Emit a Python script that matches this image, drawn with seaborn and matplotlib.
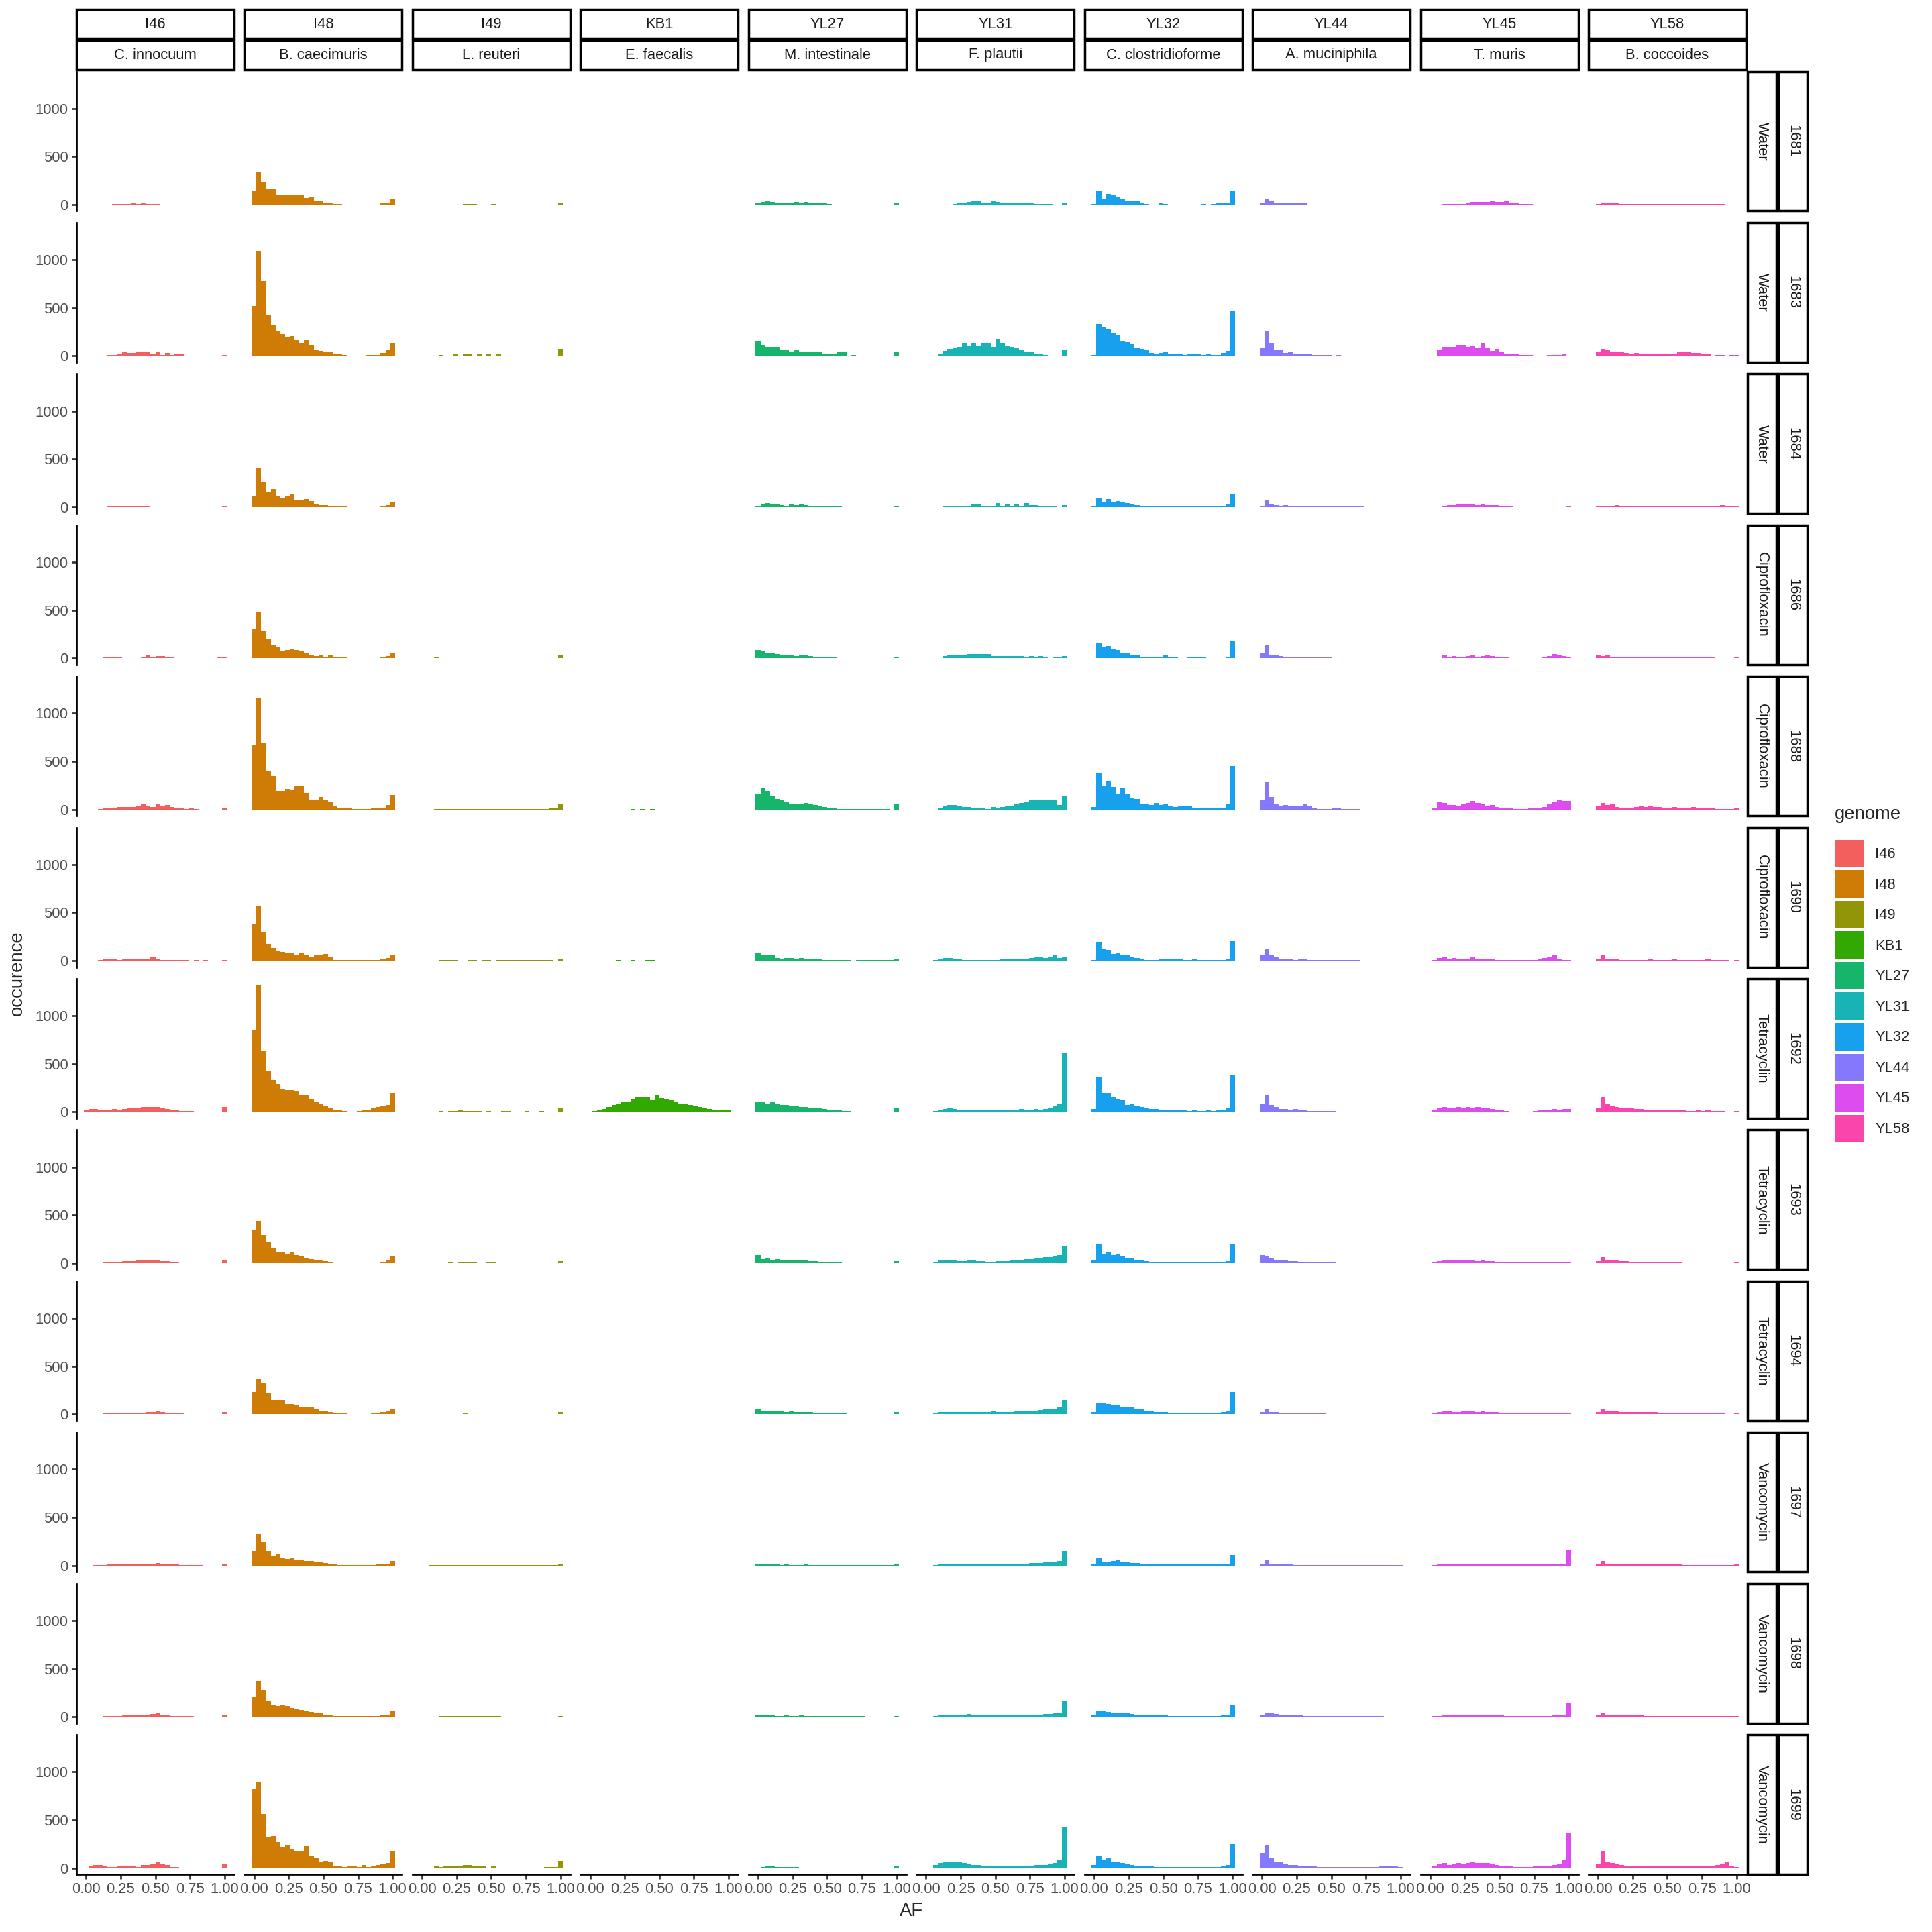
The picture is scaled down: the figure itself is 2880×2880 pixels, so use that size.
import numpy as np
import pandas as pd
import seaborn as sns
import matplotlib.pyplot as plt
from matplotlib.patches import Rectangle, Patch
from matplotlib.ticker import FormatStrFormatter

samples = ["1681", "1683", "1684", "1686", "1688", "1690",
           "1692", "1693", "1694", "1697", "1698", "1699"]
treatments = ["Water", "Water", "Water",
              "Ciprofloxacin", "Ciprofloxacin", "Ciprofloxacin",
              "Tetracyclin", "Tetracyclin", "Tetracyclin",
              "Vancomycin", "Vancomycin", "Vancomycin"]
genomes = ["I46", "I48", "I49", "KB1", "YL27", "YL31", "YL32", "YL44", "YL45", "YL58"]
species = ["C. innocuum", "B. caecimuris", "L. reuteri", "E. faecalis", "M. intestinale",
           "F. plautii", "C. clostridioforme", "A. muciniphila", "T. muris", "B. coccoides"]
genome_colors = ["#F35F5C", "#CE7C06", "#929507", "#32A902", "#17B46B",
                 "#18B3B5", "#17A0EE", "#8479FC", "#DD4CEE", "#FA46AC"]

# 30 AF bins from 0 to 1 (ggplot default bins=30), one list per sample (row order above)
af_centres = np.linspace(0, 1, 30)

counts_I46 = [
    [0,0,0,0,3,3,5,8,8,10,15,10,15,8,5,5,3,3,2,2,1,1,1,0,0,0,0,0,0,3],
    [0,0,0,5,5,13,13,26,40,32,32,37,37,37,18,48,13,34,8,21,21,5,5,5,0,0,0,0,0,13],
    [0,0,0,2,2,3,3,3,5,5,8,5,3,3,2,2,1,1,1,1,1,0,2,0,0,0,0,0,0,3],
    [0,0,5,5,18,11,18,9,5,5,5,5,11,32,11,25,25,18,11,5,5,5,5,5,0,0,0,0,9,14],
    [0,0,0,5,14,9,18,23,27,27,27,32,55,41,27,55,32,46,23,14,9,5,9,5,1,1,1,0,0,18],
    [0,0,0,11,18,25,18,11,18,18,18,18,25,18,39,25,11,5,5,5,5,5,0,5,0,5,0,0,0,11],
    [25,30,30,25,20,25,30,25,30,35,40,45,50,50,55,50,40,30,20,15,10,10,8,5,5,3,2,0,0,50],
    [0,0,3,8,12,15,15,15,18,20,22,25,25,25,28,25,20,18,12,10,8,5,5,3,3,2,0,0,0,25],
    [0,0,2,5,8,10,12,10,12,15,15,12,18,20,25,30,20,15,10,10,8,5,5,3,2,2,0,0,0,20],
    [0,0,2,5,8,10,12,12,10,12,15,15,18,20,22,25,22,18,12,10,8,5,5,3,2,0,0,0,0,20],
    [0,0,2,4,6,8,10,10,12,12,15,15,18,20,30,45,20,15,10,8,5,5,5,3,2,0,0,0,0,15],
    [0,23,35,35,18,12,12,25,18,18,18,14,35,35,46,60,42,32,12,12,5,5,5,0,0,0,0,0,2,39],
]
counts_I48 = [
    [140,339,235,167,167,98,106,106,106,98,98,71,77,42,32,21,21,8,8,2,2,1,0,1,1,2,2,16,16,55],
    [518,1094,779,429,320,258,224,196,203,162,128,162,114,66,53,39,39,25,18,11,5,5,5,5,11,11,11,32,66,135],
    [116,409,265,162,185,121,94,116,135,73,66,80,59,25,18,18,7,7,7,7,2,2,2,2,2,2,2,5,18,53],
    [299,484,279,196,142,114,73,87,94,87,73,53,32,25,32,18,32,18,18,18,5,5,5,5,5,5,5,11,25,59],
    [669,1162,696,402,347,196,190,217,210,244,240,169,100,100,128,100,73,39,18,11,11,5,5,5,5,18,11,18,46,148],
    [375,566,299,176,135,100,94,87,87,59,78,59,46,53,53,73,39,11,5,5,5,5,5,5,5,5,11,25,32,59],
    [850,1320,640,420,330,290,240,230,225,210,180,180,130,100,80,60,40,25,15,10,5,5,10,15,25,35,50,60,75,190],
    [350,440,290,220,160,120,110,100,110,80,70,50,40,30,30,20,12,8,5,5,3,3,3,3,3,3,5,10,25,75],
    [230,370,320,220,150,150,150,110,110,90,80,80,70,50,40,30,20,15,10,8,5,5,5,5,5,8,10,20,35,60],
    [150,330,250,150,100,120,80,70,80,60,55,50,45,40,30,25,15,10,8,5,5,5,5,5,5,5,10,15,20,50],
    [200,370,270,170,120,110,120,110,90,80,70,60,50,40,35,25,15,10,8,5,5,5,5,5,5,8,10,15,25,60],
    [824,887,560,324,331,269,220,234,199,171,171,227,130,102,67,74,60,28,28,12,18,18,12,32,12,18,32,46,51,178],
]
counts_I49 = [
    [0,0,0,0,0,1,2,2,3,4,5,5,2,1,3,5,1,2,1,2,1,1,2,1,1,1,1,0,0,16],
    [0,0,5,5,11,5,5,18,5,18,18,5,18,5,25,5,18,5,5,5,5,5,5,0,5,5,5,0,0,73],
    [0,0,1,1,1,2,2,2,1,1,2,2,1,1,2,2,1,1,1,1,1,0,1,1,1,1,1,0,0,0],
    [0,0,0,11,0,5,5,5,5,5,5,5,5,0,0,5,5,5,0,0,0,5,5,0,5,5,5,5,5,39],
    [0,0,0,2,2,3,3,5,3,5,3,5,3,3,5,3,5,3,2,3,5,3,2,5,3,5,5,9,9,55],
    [0,0,0,0,5,5,5,5,0,0,5,5,0,5,5,0,5,5,5,5,5,5,5,5,5,5,5,5,0,18],
    [0,0,5,5,10,5,10,10,15,10,10,10,8,5,10,5,5,10,8,5,5,5,10,5,5,10,5,5,5,40],
    [0,0,5,5,8,8,10,8,10,12,10,10,8,8,12,10,8,8,5,5,5,5,5,5,3,3,3,5,5,20],
    [0,0,2,3,3,5,5,5,5,8,5,5,3,5,5,3,3,3,3,3,3,3,3,2,2,2,2,2,2,20],
    [0,0,2,3,3,5,5,5,5,5,5,5,5,5,5,5,5,5,3,3,3,3,3,3,3,3,3,3,3,15],
    [0,0,3,3,5,5,5,5,5,8,5,5,8,5,5,5,5,3,3,3,3,3,3,3,3,3,3,3,3,8],
    [0,5,5,18,12,25,18,25,18,35,35,18,18,18,5,25,5,5,5,5,5,5,5,5,5,5,12,12,12,74],
]
counts_KB1 = [
    [0,0,0,0,0,0,0,0,0,0,0,0,0,0,0,0,0,0,0,0,0,0,0,0,0,0,0,0,0,0],
    [0,0,0,0,0,0,0,0,0,0,0,0,0,0,0,5,0,0,0,0,0,5,0,0,0,0,0,0,0,0],
    [0,0,0,0,0,0,0,0,0,0,0,0,0,0,0,0,0,0,0,0,0,0,0,0,0,0,0,0,0,0],
    [0,0,0,0,0,0,0,0,0,0,0,0,5,0,0,0,0,0,0,0,0,0,0,0,0,0,0,0,0,0],
    [0,0,0,0,0,0,0,0,0,2,1,2,1,2,1,0,0,0,0,0,0,0,0,0,0,0,0,0,0,0],
    [0,0,0,0,0,0,5,0,0,5,0,0,5,5,0,0,0,0,0,0,0,0,0,0,0,0,0,0,0,0],
    [5,10,20,30,50,70,90,100,110,130,150,150,160,120,170,140,130,120,110,90,80,70,60,50,40,30,25,20,15,20],
    [0,0,0,0,0,0,0,0,0,0,0,0,5,5,5,8,5,5,8,5,5,5,3,0,3,3,0,3,0,0],
    [0,0,0,0,0,0,0,0,0,0,0,0,0,0,1,0,0,0,0,0,0,0,0,0,0,0,0,0,0,0],
    [0,0,0,0,0,0,0,0,0,0,0,0,0,0,0,0,0,0,0,0,0,0,0,0,0,0,0,0,0,0],
    [0,0,0,0,0,0,0,0,0,0,0,2,0,0,0,2,0,0,0,2,0,0,0,0,0,0,0,0,0,2],
    [0,0,0,2,0,0,0,0,0,0,0,0,2,2,0,0,0,0,0,0,0,0,0,0,0,0,0,0,0,0],
]
counts_YL27 = [
    [12,25,32,25,15,20,15,20,25,20,28,20,15,15,12,8,3,3,2,2,2,3,2,3,2,2,2,1,1,12],
    [155,106,95,86,86,62,62,44,58,44,44,44,37,37,25,25,25,37,37,5,9,5,5,5,5,5,5,5,5,44],
    [11,27,39,27,27,23,11,27,18,32,23,11,5,5,11,5,9,5,2,2,2,2,2,2,2,2,2,1,1,11],
    [87,73,59,53,46,32,39,27,23,27,32,25,18,18,18,11,9,5,5,5,2,5,5,5,5,5,5,5,5,18],
    [162,219,190,142,107,94,73,62,59,59,66,53,46,32,27,18,11,5,5,5,5,5,5,5,5,5,2,2,0,53],
    [87,59,59,59,32,25,32,32,25,32,18,18,18,18,11,5,11,11,11,5,2,5,5,5,5,5,5,5,5,25],
    [100,110,90,100,80,70,70,60,60,55,50,45,40,35,30,25,20,15,10,8,5,5,3,3,2,2,2,2,2,40],
    [80,40,45,35,40,35,30,30,25,30,25,20,20,15,15,12,10,10,8,8,5,5,5,5,5,5,5,5,5,20],
    [60,30,35,30,35,30,25,30,25,25,20,20,18,15,12,10,10,8,8,5,5,5,5,5,5,5,5,5,5,25],
    [10,10,12,10,10,8,10,8,8,8,10,8,8,6,6,5,5,5,5,3,3,3,3,3,3,3,3,3,3,10],
    [15,12,12,12,10,10,12,10,10,12,10,10,10,8,8,8,8,5,5,5,5,5,5,3,3,3,3,3,3,10],
    [5,10,15,25,10,8,10,8,8,5,5,5,5,5,5,5,5,5,3,3,3,3,3,3,3,3,3,3,3,15],
]
counts_YL31 = [
    [0,0,0,2,2,3,8,15,22,25,35,44,14,20,37,30,18,18,18,18,18,18,15,5,5,5,5,3,2,12],
    [0,0,0,16,51,72,79,86,127,100,127,100,134,134,86,169,127,100,86,79,58,44,37,23,16,9,5,5,5,58],
    [0,0,0,0,7,7,11,11,11,11,27,27,9,5,5,39,11,37,11,37,11,39,20,18,11,11,11,5,2,20],
    [0,0,0,5,20,27,32,37,37,41,41,41,41,41,25,25,25,25,25,25,25,18,25,18,25,11,5,18,11,25],
    [0,0,0,18,39,48,48,39,25,25,21,14,14,5,25,21,25,32,39,55,71,80,100,94,94,94,100,100,46,135],
    [0,0,5,18,32,32,25,18,11,11,11,11,5,11,5,11,18,18,25,25,18,25,32,46,39,32,46,53,32,46],
    [0,0,10,20,30,40,30,25,20,15,20,15,20,25,20,25,20,20,25,25,30,25,20,30,25,30,40,60,80,610],
    [0,0,15,25,30,30,25,20,20,25,25,20,20,15,15,20,20,20,25,25,30,40,40,50,55,60,65,70,80,180],
    [0,0,10,20,25,25,20,20,20,25,20,20,25,25,30,25,25,20,25,30,30,35,30,40,45,50,50,55,70,150],
    [0,0,5,10,15,15,15,20,15,15,15,20,20,15,15,15,20,20,20,15,20,20,25,25,25,30,30,35,45,150],
    [0,0,10,15,20,20,25,20,20,30,25,20,25,20,20,20,20,20,25,20,20,20,25,25,25,30,30,35,45,170],
    [0,0,30,50,60,70,70,60,50,40,30,30,25,25,20,20,20,20,25,20,20,25,25,30,30,35,40,50,90,420],
]
counts_YL32 = [
    [10,150,65,113,97,83,65,39,35,35,16,5,3,3,16,8,3,3,2,2,2,3,3,8,3,5,12,16,16,141],
    [11,333,299,272,237,210,148,142,121,80,73,66,32,25,32,46,25,18,18,11,18,25,25,11,18,11,11,32,53,473],
    [5,87,48,80,57,64,48,41,27,18,11,5,5,5,16,9,5,5,5,5,5,5,5,5,5,5,5,5,27,142],
    [5,164,116,130,96,87,55,55,34,27,18,18,18,18,18,32,18,18,5,5,11,11,11,11,5,5,5,5,18,183],
    [27,381,251,295,233,167,231,167,114,110,53,53,46,71,46,53,32,27,39,32,32,11,11,18,18,11,11,18,59,450],
    [5,196,128,114,73,80,53,66,39,32,18,11,5,5,25,18,25,18,25,11,5,18,11,11,5,5,11,11,25,203],
    [30,360,200,190,160,130,120,70,80,60,50,40,30,30,25,25,20,15,20,15,10,15,10,10,15,10,15,25,40,390],
    [25,200,100,120,80,90,70,50,45,30,25,20,15,15,15,10,10,10,10,10,10,10,10,10,10,10,10,10,20,200],
    [20,120,120,110,100,90,80,80,70,60,50,40,30,25,20,20,15,15,10,10,10,10,10,10,10,10,15,20,30,230],
    [10,80,40,40,50,55,40,35,25,25,20,20,15,15,15,10,10,10,10,10,10,10,10,10,10,10,10,15,20,110],
    [15,60,60,50,45,45,40,35,30,25,25,20,20,15,15,15,10,10,10,10,10,10,10,10,10,10,10,15,20,120],
    [30,120,80,100,60,70,50,40,30,20,20,15,15,10,10,10,10,10,10,10,10,10,10,10,10,10,10,15,30,250],
]
counts_YL44 = [
    [12,58,44,23,23,12,12,12,12,15,3,2,2,2,2,2,2,2,2,2,2,2,2,2,1,1,1,0,0,0],
    [80,258,128,66,59,32,39,18,25,25,25,11,11,11,11,5,11,5,5,5,5,5,5,5,5,5,5,0,5,0],
    [5,66,37,23,11,23,5,5,14,9,9,5,5,5,5,3,3,3,3,3,3,3,2,2,2,2,2,1,2,0],
    [59,135,39,32,25,18,18,11,18,11,11,11,11,11,11,5,5,5,5,5,5,5,5,0,0,0,0,0,0,0],
    [94,285,128,59,39,46,39,39,39,53,39,18,5,5,5,11,11,5,5,2,2,1,1,1,1,1,0,0,0,0],
    [66,128,53,39,18,18,18,11,25,18,11,11,5,11,5,5,5,5,5,5,5,0,0,0,0,0,0,0,0,0],
    [90,170,70,50,30,30,25,30,20,15,10,10,10,8,8,8,5,5,5,5,5,5,5,5,5,5,5,5,5,5],
    [80,70,50,35,30,25,20,20,15,15,15,12,10,10,10,10,8,8,8,5,5,5,5,5,5,5,5,3,3,3],
    [20,60,25,20,15,15,10,10,10,10,8,8,8,8,5,5,5,5,5,5,5,5,5,5,5,5,3,3,3,3],
    [15,60,20,15,12,10,10,8,8,8,8,5,5,5,5,5,5,5,5,5,5,5,5,5,5,5,5,5,5,5],
    [20,45,40,30,20,20,15,12,12,10,10,8,8,8,5,5,5,5,5,5,5,5,5,5,5,5,3,3,3,3],
    [160,240,100,70,60,40,30,30,25,20,15,15,10,10,10,10,8,8,8,8,8,8,10,10,10,15,15,20,15,10],
]
counts_YL45 = [
    [0,0,0,9,9,9,9,9,18,30,30,30,30,37,30,30,44,20,12,9,9,5,3,3,3,3,2,3,2,3],
    [0,5,66,87,87,94,107,107,87,100,80,128,80,53,73,46,25,18,18,11,11,11,5,5,5,11,11,11,18,5],
    [0,0,0,5,18,18,32,32,37,37,23,32,18,18,23,5,5,5,2,2,2,2,2,2,2,2,2,2,2,3],
    [0,0,5,39,18,25,11,18,25,39,18,25,32,25,11,11,11,5,5,5,5,5,5,5,18,25,46,32,25,11],
    [0,11,80,66,46,46,39,53,66,87,66,53,41,46,27,18,18,11,5,5,5,11,18,18,25,53,80,100,87,87],
    [0,11,32,39,25,32,25,18,25,39,25,25,25,18,11,11,5,5,5,5,11,5,11,18,32,39,53,25,11,5],
    [0,20,40,50,40,45,50,40,55,40,50,40,45,30,25,15,10,5,5,5,5,5,10,15,20,25,30,25,30,30],
    [0,10,20,25,25,25,30,25,30,25,20,25,20,20,15,15,15,10,10,10,10,10,10,10,10,10,10,12,10,10],
    [0,10,25,30,30,25,25,30,35,30,25,30,25,20,20,15,15,10,10,10,10,10,10,10,10,10,10,10,10,15],
    [0,5,10,10,12,15,15,15,15,15,20,15,15,15,15,15,12,10,10,10,10,10,10,10,10,10,15,15,20,160],
    [0,5,10,12,15,15,15,15,15,20,15,15,15,15,15,12,10,10,10,10,10,10,10,10,10,10,15,15,25,150],
    [0,20,40,50,30,40,50,45,55,60,55,50,50,40,35,25,20,15,10,10,10,10,15,15,20,25,30,40,80,370],
]
counts_YL58 = [
    [5,16,16,16,16,9,9,9,9,5,5,4,4,4,4,4,4,4,4,9,4,9,9,4,9,4,4,2,2,3],
    [39,73,66,39,46,39,32,25,32,18,25,18,25,18,18,25,25,39,46,39,32,32,18,18,5,11,11,5,11,11],
    [5,11,9,9,18,9,9,5,5,5,5,5,5,5,5,11,5,5,5,5,11,5,5,11,5,5,18,5,5,5],
    [32,25,32,18,11,11,11,11,11,11,11,11,11,11,11,11,11,11,11,18,11,11,11,11,11,5,5,5,0,11],
    [39,66,46,55,25,18,18,18,25,32,25,32,25,27,18,18,25,18,18,18,25,18,18,11,11,2,2,2,2,18],
    [18,53,25,18,18,11,11,11,11,11,11,18,11,11,11,11,25,11,11,11,11,11,11,18,5,5,5,5,0,11],
    [40,150,80,60,55,45,40,35,30,30,25,25,20,20,25,20,20,15,15,10,10,15,10,15,10,10,10,5,5,10],
    [20,60,30,30,25,20,20,15,15,15,15,10,10,10,10,10,10,10,8,8,8,8,8,8,5,5,5,5,5,10],
    [20,50,30,30,35,25,25,20,20,20,20,25,20,15,15,15,15,15,10,10,10,10,10,10,8,8,8,5,5,8],
    [10,45,20,20,15,15,15,12,12,10,10,10,10,10,10,10,10,10,8,8,8,8,8,8,8,8,8,8,8,10],
    [15,35,20,20,15,15,15,12,12,12,10,10,10,10,10,10,10,10,8,8,8,8,8,8,8,8,8,8,8,10],
    [40,170,60,50,40,30,20,25,20,20,15,15,20,15,15,15,20,15,15,15,15,20,25,20,25,30,40,60,25,10],
]

all_counts = dict(zip(genomes, [counts_I46, counts_I48, counts_I49, counts_KB1, counts_YL27,
                                counts_YL31, counts_YL32, counts_YL44, counts_YL45, counts_YL58]))

# long table: one row per (genome, sample, AF bin)
recs = []
for gname in genomes:
    for s, row in zip(samples, all_counts[gname]):
        for af, n in zip(af_centres, row):
            recs.append((gname, s, float(af), float(n)))
df = pd.DataFrame(recs, columns=["genome", "sample", "AF", "n"])

sns.set_theme(style="ticks")
plt.rcParams["font.family"] = ["Liberation Sans", "DejaVu Sans"]

W = 2880.0
half = 0.5 / 29

g = sns.FacetGrid(df, row="sample", col="genome", hue="genome",
                  row_order=samples, col_order=genomes, hue_order=genomes,
                  palette=genome_colors, sharex=True, sharey=True,
                  height=1.3, aspect=1.1, despine=True)
g.map_dataframe(sns.histplot, x="AF", weights="n", binwidth=1 / 29,
                binrange=(-half, 1 + half), alpha=1, linewidth=0)

fig = g.figure
fig.set_size_inches(16, 16)
fig.subplots_adjust(left=114 / W, right=2603 / W, top=1 - 106.5 / W,
                    bottom=1 - 2794 / W, wspace=0.0655, hspace=0.0837)

ymax = df["n"].max()
nrow, ncol = g.axes.shape
for i in range(nrow):
    for j in range(ncol):
        ax = g.axes[i, j]
        ax.set_title("")
        ax.set_xlabel("")
        ax.set_ylabel("")
        ax.set_xlim(-half - 0.05 * (1 + 2 * half), 1 + half + 0.05 * (1 + 2 * half))
        ax.set_ylim(-0.05 * ymax, 1.05 * ymax)
        for sp in ["left", "bottom"]:
            ax.spines[sp].set_linewidth(1.07)
            ax.spines[sp].set_color("black")
        ax.tick_params(length=2.75, width=1.07, color="#333333", labelsize=8.8,
                       labelcolor="#4D4D4D", pad=2.2)
        if j > 0:
            ax.spines["left"].set_visible(False)
            ax.tick_params(left=False, labelleft=False)
        if i < nrow - 1:
            ax.spines["bottom"].set_visible(False)
            ax.tick_params(bottom=False, labelbottom=False)

g.axes[0, 0].set_xticks([0, 0.25, 0.5, 0.75, 1.0])
g.axes[0, 0].xaxis.set_major_formatter(FormatStrFormatter("%.2f"))
g.axes[0, 0].set_yticks([0, 500, 1000])

# strip boxes
px = 1 / W
sh = 43 * px
gap = 3 * px
strip_kw = dict(fill=True, facecolor="white", edgecolor="black", linewidth=1.4,
                transform=fig.transFigure, clip_on=False)
for j in range(ncol):
    pos = g.axes[0, j].get_position()
    y_low = pos.y1 + gap
    y_up = y_low + sh + gap
    for yb, txt in [(y_low, species[j]), (y_up, genomes[j])]:
        fig.add_artist(Rectangle((pos.x0, yb), pos.width, sh, **strip_kw))
        fig.text(pos.x0 + pos.width / 2, yb + sh / 2, txt, ha="center", va="center",
                 fontsize=8.8, color="#1A1A1A")

for i in range(nrow):
    pos = g.axes[i, -1].get_position()
    x_a = pos.x1 + 2 * px
    x_b = x_a + sh + gap
    for xb, txt in [(x_a, treatments[i]), (x_b, samples[i])]:
        fig.add_artist(Rectangle((xb, pos.y0), sh, pos.height, **strip_kw))
        fig.text(xb + sh / 2, pos.y0 + pos.height / 2, txt, ha="center", va="center",
                 rotation=270, fontsize=8.8, color="#1A1A1A")

# axis titles
fig.text((114 + 2603) / 2 / W, 1 - 2849 / W, "AF", ha="center", va="center", fontsize=11)
fig.text(26 / W, 1 - (106.5 + 2794) / 2 / W, "occurence", ha="center", va="center",
         rotation=90, fontsize=11)

# legend
handles = [Patch(facecolor=c, edgecolor="none") for c in genome_colors]
leg = fig.legend(handles, genomes, title="genome", loc="upper left",
                 bbox_to_anchor=(2726 / W, 1 - 1192 / W), frameon=False,
                 fontsize=8.8, title_fontsize=11, handlelength=2.0, handleheight=2.5,
                 labelspacing=0.2, handletextpad=0.75, alignment="left", borderaxespad=0)
leg._legend_box.sep = 10

fig.savefig("out.png", dpi=180)
